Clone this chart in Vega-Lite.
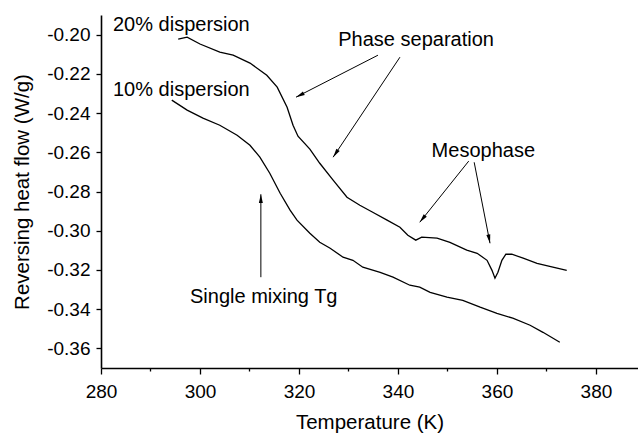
{
  "$schema": "https://vega.github.io/schema/vega-lite/v6.json",
  "autosize": {"type": "none"},
  "padding": {"left": 101, "top": 15, "right": 0, "bottom": 66},
  "width": 537,
  "height": 353,
  "background": "white",
  "config": {
    "view": {"stroke": null},
    "font": "Liberation Sans",
    "axis": {
      "domainColor": "black",
      "domainWidth": 1.6,
      "tickColor": "black",
      "tickWidth": 1.3,
      "labelColor": "black",
      "titleColor": "black",
      "labelFont": "Liberation Sans",
      "titleFont": "Liberation Sans",
      "labelFontSize": 19,
      "titleFontSize": 20.5,
      "titleFontWeight": "normal",
      "grid": false
    }
  },
  "datasets": {
    "curves": [
      {"series": "20%", "T": 295.6, "q": -0.2023},
      {"series": "20%", "T": 297.4, "q": -0.2013},
      {"series": "20%", "T": 300.0, "q": -0.2048},
      {"series": "20%", "T": 304.0, "q": -0.2089},
      {"series": "20%", "T": 306.7, "q": -0.2105},
      {"series": "20%", "T": 310.1, "q": -0.2145},
      {"series": "20%", "T": 313.5, "q": -0.2207},
      {"series": "20%", "T": 315.6, "q": -0.2268},
      {"series": "20%", "T": 317.6, "q": -0.2370},
      {"series": "20%", "T": 318.8, "q": -0.2462},
      {"series": "20%", "T": 319.8, "q": -0.2518},
      {"series": "20%", "T": 322.2, "q": -0.2584},
      {"series": "20%", "T": 324.2, "q": -0.2656},
      {"series": "20%", "T": 326.9, "q": -0.2742},
      {"series": "20%", "T": 329.7, "q": -0.2829},
      {"series": "20%", "T": 332.3, "q": -0.2870},
      {"series": "20%", "T": 334.9, "q": -0.2906},
      {"series": "20%", "T": 337.8, "q": -0.2946},
      {"series": "20%", "T": 340.4, "q": -0.2982},
      {"series": "20%", "T": 342.0, "q": -0.3023},
      {"series": "20%", "T": 343.6, "q": -0.3048},
      {"series": "20%", "T": 344.8, "q": -0.3033},
      {"series": "20%", "T": 347.9, "q": -0.3038},
      {"series": "20%", "T": 350.5, "q": -0.3059},
      {"series": "20%", "T": 353.9, "q": -0.3099},
      {"series": "20%", "T": 356.0, "q": -0.3115},
      {"series": "20%", "T": 358.0, "q": -0.3151},
      {"series": "20%", "T": 359.0, "q": -0.3202},
      {"series": "20%", "T": 359.6, "q": -0.3242},
      {"series": "20%", "T": 360.2, "q": -0.3212},
      {"series": "20%", "T": 361.0, "q": -0.3151},
      {"series": "20%", "T": 361.8, "q": -0.3120},
      {"series": "20%", "T": 363.0, "q": -0.3120},
      {"series": "20%", "T": 365.3, "q": -0.3140},
      {"series": "20%", "T": 368.1, "q": -0.3166},
      {"series": "20%", "T": 371.3, "q": -0.3186},
      {"series": "20%", "T": 374.1, "q": -0.3202},
      {"series": "10%", "T": 294.3, "q": -0.2334},
      {"series": "10%", "T": 297.4, "q": -0.2385},
      {"series": "10%", "T": 300.6, "q": -0.2426},
      {"series": "10%", "T": 304.0, "q": -0.2462},
      {"series": "10%", "T": 307.5, "q": -0.2513},
      {"series": "10%", "T": 310.1, "q": -0.2564},
      {"series": "10%", "T": 312.1, "q": -0.2625},
      {"series": "10%", "T": 314.1, "q": -0.2707},
      {"series": "10%", "T": 316.2, "q": -0.2809},
      {"series": "10%", "T": 318.2, "q": -0.2895},
      {"series": "10%", "T": 319.6, "q": -0.2946},
      {"series": "10%", "T": 322.2, "q": -0.3013},
      {"series": "10%", "T": 324.2, "q": -0.3059},
      {"series": "10%", "T": 326.3, "q": -0.3089},
      {"series": "10%", "T": 328.9, "q": -0.3135},
      {"series": "10%", "T": 330.9, "q": -0.3151},
      {"series": "10%", "T": 332.9, "q": -0.3186},
      {"series": "10%", "T": 336.4, "q": -0.3212},
      {"series": "10%", "T": 339.0, "q": -0.3237},
      {"series": "10%", "T": 342.4, "q": -0.3278},
      {"series": "10%", "T": 344.4, "q": -0.3288},
      {"series": "10%", "T": 346.5, "q": -0.3314},
      {"series": "10%", "T": 349.9, "q": -0.3339},
      {"series": "10%", "T": 353.1, "q": -0.3355},
      {"series": "10%", "T": 356.6, "q": -0.3390},
      {"series": "10%", "T": 360.0, "q": -0.3421},
      {"series": "10%", "T": 363.2, "q": -0.3446},
      {"series": "10%", "T": 366.7, "q": -0.3482},
      {"series": "10%", "T": 369.3, "q": -0.3518},
      {"series": "10%", "T": 372.7, "q": -0.3569}
    ],
    "arrows": [
      {"k": 1, "T1": 335.96, "q1": -0.2105, "T2": 319.4, "q2": -0.2319},
      {"k": 2, "T1": 340.4, "q1": -0.2115, "T2": 326.9, "q2": -0.2625},
      {"k": 3, "T1": 354.3, "q1": -0.2645, "T2": 344.4, "q2": -0.2957},
      {"k": 4, "T1": 355.4, "q1": -0.2651, "T2": 358.6, "q2": -0.3064},
      {"k": 5, "T1": 312.3, "q1": -0.3237, "T2": 312.3, "q2": -0.2814}
    ],
    "notes": [
      {"T": 282.42, "q": -0.1981, "text": "20% dispersion"},
      {"T": 282.42, "q": -0.2312, "text": "10% dispersion"},
      {"T": 327.94, "q": -0.2059, "text": "Phase separation"},
      {"T": 346.8, "q": -0.2623, "text": "Mesophase"},
      {"T": 297.98, "q": -0.3368, "text": "Single mixing Tg"}
    ]
  },
  "layer": [
    {
      "data": {"name": "curves"},
      "mark": {"type": "line", "color": "black", "strokeWidth": 1.3, "clip": true},
      "encoding": {
        "x": {
          "field": "T", "type": "quantitative",
          "scale": {"domain": [280, 388.5], "nice": false, "zero": false},
          "axis": {
            "title": "Temperature (K)",
            "values": [280, 290, 300, 310, 320, 330, 340, 350, 360, 370, 380],
            "labelExpr": "datum.value % 20 === 0 ? format(datum.value, 'd') : ''",
            "tickSize": {"condition": {"test": "datum.value % 20 !== 0", "value": 3}, "value": 6},
            "labelPadding": 8,
            "titleBaseline": "alphabetic",
            "titleY": 60,
            "labelFlush": false,
            "labelOverlap": false
          }
        },
        "y": {
          "field": "q", "type": "quantitative",
          "scale": {"domain": [-0.37, -0.19], "nice": false, "zero": false},
          "axis": {
            "title": "Reversing heat flow (W/g)",
            "values": [-0.36, -0.34, -0.32, -0.3, -0.28, -0.26, -0.24, -0.22, -0.2],
            "labelExpr": "'-' + format(-datum.value, '.2f')",
            "tickSize": 5,
            "labelPadding": 6,
            "titleBaseline": "alphabetic",
            "titleX": -73,
            "labelFlush": false,
            "labelOverlap": false
          }
        },
        "detail": {"field": "series", "type": "nominal"}
      }
    },
    {
      "data": {"name": "arrows"},
      "mark": {"type": "rule", "color": "black", "strokeWidth": 1},
      "encoding": {
        "x": {"field": "T1", "type": "quantitative"},
        "y": {"field": "q1", "type": "quantitative"},
        "x2": {"field": "T2"},
        "y2": {"field": "q2"}
      }
    },
    {
      "data": {"name": "arrows"},
      "mark": {"type": "point", "shape": "M0,0L-0.5,2.2L0.5,2.2Z", "filled": true, "color": "black", "size": 64, "opacity": 1, "strokeWidth": 0},
      "encoding": {
        "x": {"field": "T2", "type": "quantitative"},
        "y": {"field": "q2", "type": "quantitative"},
        "angle": {
          "field": "k", "type": "quantitative",
          "scale": {"domain": [1, 2, 3, 4, 5], "range": [243, 213.8, 218.8, 168.8, 0]},
          "legend": null
        }
      }
    },
    {
      "data": {"name": "notes"},
      "mark": {"type": "text", "align": "left", "baseline": "alphabetic", "fontSize": 20, "font": "Liberation Sans", "color": "black"},
      "encoding": {
        "x": {"field": "T", "type": "quantitative"},
        "y": {"field": "q", "type": "quantitative"},
        "text": {"field": "text", "type": "nominal"}
      }
    }
  ]
}
